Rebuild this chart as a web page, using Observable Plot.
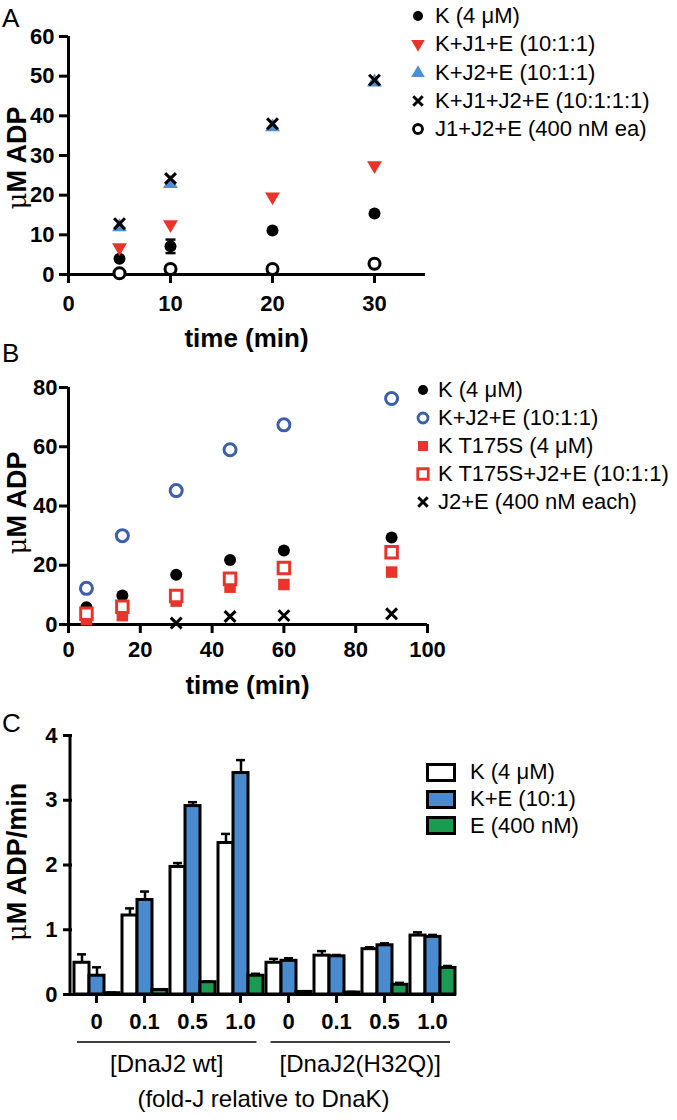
<!DOCTYPE html>
<html>
<head>
<meta charset="utf-8">
<script src="https://cdn.jsdelivr.net/npm/d3@7"></script>
<script src="https://cdn.jsdelivr.net/npm/@observablehq/plot@0.6"></script>
<style>
  body { margin: 0; background: #fff; }
  #root { position: relative; width: 677px; height: 1120px; font-family: "Liberation Sans", Arial, sans-serif; color: #000; overflow: hidden; }
  .letter { position: absolute; font-size: 26px; line-height: 1; }
  .leg { position: absolute; font-size: 22px; }
  .leg .row { display: flex; align-items: center; white-space: nowrap; }
  .leg svg { flex: none; }
</style>
</head>
<body>
<div id="root"></div>
<script>
// ---------------- DATA ----------------
// Panel A
const timesA = [5, 10, 20, 30];
const seriesA = ["K (4 μM)", "K+J1+E (10:1:1)", "K+J2+E (10:1:1)", "K+J1+J2+E (10:1:1:1)", "J1+J2+E (400 nM ea)"];
const aK      = [4.0, 7.1, 11.1, 15.4];
const aKlo    = [null, 5.4, null, null];
const aKhi    = [null, 8.8, null, null];
const aKJ1E   = [6.8, 12.6, 19.6, 27.5];
const aKJ2E   = [12.0, 22.9, 37.2, 48.5];
const aKJ1J2E = [12.8, 24.2, 38.0, 49.0];
const aJ1J2E  = [0.3, 1.4, 1.4, 2.7];
const ticksAx = [0, 10, 20, 30];
const ticksAy = [0, 10, 20, 30, 40, 50, 60];

// Panel B
const timesB = [5, 15, 30, 45, 60, 90];
const seriesB = ["K (4 μM)", "K+J2+E (10:1:1)", "K T175S (4 μM)", "K T175S+J2+E (10:1:1)", "J2+E (400 nM each)"];
const bK       = [5.8, 9.8, 16.8, 21.8, 25.0, 29.4];
const bKJ2E    = [12.2, 30.0, 45.2, 59.0, 67.4, 76.3];
const bT175S   = [1.6, 3.0, 7.9, 12.6, 13.5, 17.7];
const bT175SJ2E= [3.6, 6.0, 9.6, 15.4, 19.1, 24.4];
const bJ2E     = [null, null, 0.5, 2.7, 3.0, 3.6];
const ticksBx = [0, 20, 40, 60, 80, 100];
const ticksBy = [0, 20, 40, 60, 80];

// Panel C
const seriesC = ["K (4 μM)", "K+E (10:1)", "E (400 nM)"];
const foldJ = ["0", "0.1", "0.5", "1.0"];
const constructsC = ["[DnaJ2 wt]", "[DnaJ2(H32Q)]"];
const cK_wt    = [0.49, 1.22, 1.97, 2.34];
const cK_wtHi  = [0.62, 1.33, 2.03, 2.48];
const cKE_wt   = [0.29, 1.46, 2.91, 3.42];
const cKE_wtHi = [0.42, 1.59, 2.97, 3.62];
const cE_wt    = [0.02, 0.07, 0.19, 0.29];
const cE_wtHi  = [0.03, 0.08, 0.20, 0.32];
const cK_h     = [0.49, 0.60, 0.70, 0.91];
const cK_hHi   = [0.55, 0.67, 0.73, 0.96];
const cKE_h    = [0.52, 0.59, 0.76, 0.89];
const cKE_hHi  = [0.56, 0.61, 0.79, 0.92];
const cE_h     = [0.04, 0.03, 0.15, 0.41];
const cE_hHi   = [0.05, 0.04, 0.18, 0.44];
const ticksCy = [0, 1, 2, 3, 4];

// ---------------- STYLE ----------------
const FONT = '"Liberation Sans", Arial, sans-serif';
const RED = "#e8352b", BLUE_A = "#4a90d2", BLUE_B = "#3d5eab", BLUE_C = "#4a8bcf", GREEN = "#1b9a52";

const sqrt3 = Math.sqrt(3);
const triDown = {draw(ctx, size) {
  const y = Math.sqrt(size / (sqrt3 * 3));
  ctx.moveTo(0, 2 * y); ctx.lineTo(-sqrt3 * y, -y); ctx.lineTo(sqrt3 * y, -y); ctx.closePath();
}};
const capSym = {draw(ctx, size) { ctx.moveTo(-5, 0); ctx.lineTo(5, 0); }};

const root = document.getElementById("root");
function place(el, left, top) {
  el.style.position = "absolute"; el.style.left = left + "px"; el.style.top = top + "px";
  root.appendChild(el); return el;
}
function axisOpts(extra) {
  return Object.assign({strokeWidth: 3, fontSize: 22, fontWeight: "bold", label: null, tickSize: 9}, extra);
}
function addYTitle(svg, cx, cy, rest) {
  const t = d3.select(svg).append("text")
    .attr("transform", `translate(${cx},${cy}) rotate(-90)`)
    .attr("text-anchor", "middle").attr("dominant-baseline", "central")
    .attr("font-family", FONT).attr("font-size", 27).attr("font-weight", "bold").attr("fill", "black");
  t.append("tspan").attr("font-weight", "normal").attr("font-family", '"DejaVu Serif", serif').attr("font-size", 26).text("μ");
  t.append("tspan").text(rest);
}
function addXTitle(svg, cx, cy, txt) {
  d3.select(svg).append("text")
    .attr("x", cx).attr("y", cy).attr("text-anchor", "middle").attr("dominant-baseline", "central")
    .attr("font-family", FONT).attr("font-size", 26).attr("font-weight", "bold").attr("fill", "black").text(txt);
}
function symSvg(drawFn) {
  const s = d3.create("svg").attr("width", 20).attr("height", 20).attr("viewBox", "-10 -10 20 20");
  drawFn(s); return s.node();
}
function makeLegend(items, left, top, rowH, gap) {
  const div = document.createElement("div"); div.className = "leg";
  items.forEach(([label, drawFn]) => {
    const r = document.createElement("div"); r.className = "row"; r.style.height = rowH + "px";
    const s = symSvg(drawFn); s.style.marginRight = gap + "px"; r.appendChild(s);
    const sp = document.createElement("span"); sp.textContent = label; r.appendChild(sp);
    div.appendChild(r);
  });
  return place(div, left, top);
}
function letter(txt, left, top) {
  const d = document.createElement("div"); d.className = "letter"; d.textContent = txt; place(d, left, top);
}
function symPath(sym, size) { return d3.symbol(sym, size)(); }
const intFmt = d => String(d);

// ---------------- PANEL A ----------------
const plotA = Plot.plot({
  width: 440, height: 360,
  marginLeft: 68, marginRight: 15, marginTop: 36, marginBottom: 86,
  style: {fontFamily: FONT, color: "black", background: "transparent", overflow: "visible"},
  x: {domain: [0, 35]}, y: {domain: [0, 60]},
  marks: [
    Plot.ruleX([0], {strokeWidth: 3}),
    Plot.ruleY([0], {strokeWidth: 3}),
    Plot.axisX(axisOpts({ticks: ticksAx, tickFormat: intFmt, tickPadding: 12})),
    Plot.axisY(axisOpts({ticks: ticksAy, tickFormat: intFmt, tickPadding: 5})),
    Plot.dot(timesA, {x: timesA, y: aJ1J2E, r: 5.5, stroke: "black", strokeWidth: 3, fill: "white"}),
    Plot.ruleX(timesA, {x: timesA, y1: aKlo, y2: aKhi, strokeWidth: 2.5}),
    Plot.dot(timesA, {x: timesA, y: aKlo, symbol: capSym, stroke: "black", strokeWidth: 2.5}),
    Plot.dot(timesA, {x: timesA, y: aKhi, symbol: capSym, stroke: "black", strokeWidth: 2.5}),
    Plot.dot(timesA, {x: timesA, y: aK, r: 6, fill: "black"}),
    Plot.dot(timesA, {x: timesA, y: aKJ1E, r: 5.5, symbol: triDown, fill: RED, stroke: "none"}),
    Plot.dot(timesA, {x: timesA, y: aKJ2E, r: 5.5, symbol: "triangle", fill: BLUE_A, stroke: "none"}),
    Plot.dot(timesA, {x: timesA, y: aKJ1J2E, r: 5, symbol: "times", stroke: "black", strokeWidth: 3})
  ]
});
place(plotA, 0, 0);
addYTitle(plotA, 17, 158, "M ADP");
addXTitle(plotA, (68 + 425) / 2, 338, "time (min)");
letter("A", 2, 5);
makeLegend([
  [seriesA[0], s => s.append("circle").attr("r", 5).attr("fill", "black")],
  [seriesA[1], s => s.append("path").attr("d", symPath(triDown, 80)).attr("fill", RED)],
  [seriesA[2], s => s.append("path").attr("d", symPath(d3.symbolTriangle, 80)).attr("fill", BLUE_A)],
  [seriesA[3], s => s.append("path").attr("d", symPath(d3.symbolTimes, 60)).attr("stroke", "black").attr("stroke-width", 3)],
  [seriesA[4], s => s.append("circle").attr("r", 4.5).attr("fill", "white").attr("stroke", "black").attr("stroke-width", 2.8)]
], 408, 2, 28.3, 7);

// ---------------- PANEL B ----------------
const plotB = Plot.plot({
  width: 440, height: 370,
  marginLeft: 68, marginRight: 13, marginTop: 57, marginBottom: 76,
  style: {fontFamily: FONT, color: "black", background: "transparent", overflow: "visible"},
  x: {domain: [0, 100]}, y: {domain: [0, 80]},
  marks: [
    Plot.ruleX([0], {strokeWidth: 3}),
    Plot.ruleY([0], {strokeWidth: 3}),
    Plot.axisX(axisOpts({ticks: ticksBx, tickFormat: intFmt, tickPadding: 8})),
    Plot.axisY(axisOpts({ticks: ticksBy, tickFormat: intFmt, tickPadding: 2})),
    Plot.dot(timesB, {x: timesB, y: bK, r: 6, fill: "black"}),
    Plot.dot(timesB, {x: timesB, y: bKJ2E, r: 6, stroke: BLUE_B, strokeWidth: 3, fill: "white"}),
    Plot.dot(timesB, {x: timesB, y: bT175S, r: 6.5, symbol: "square", fill: RED, stroke: "none"}),
    Plot.dot(timesB, {x: timesB, y: bT175SJ2E, r: 6.5, symbol: "square", fill: "white", stroke: RED, strokeWidth: 3}),
    Plot.dot(timesB, {x: timesB, y: bJ2E, r: 5, symbol: "times", stroke: "black", strokeWidth: 3})
  ]
});
place(plotB, 0, 330);
addYTitle(plotB, 17, 173, "M ADP");
addXTitle(plotB, (68 + 427) / 2, 355, "time (min)");
letter("B", 2, 340);
makeLegend([
  [seriesB[0], s => s.append("circle").attr("r", 5).attr("fill", "black")],
  [seriesB[1], s => s.append("circle").attr("r", 5).attr("fill", "white").attr("stroke", BLUE_B).attr("stroke-width", 2.8)],
  [seriesB[2], s => s.append("path").attr("d", symPath(d3.symbolSquare, 100)).attr("fill", RED)],
  [seriesB[3], s => s.append("path").attr("d", symPath(d3.symbolSquare, 110)).attr("fill", "white").attr("stroke", RED).attr("stroke-width", 2.8)],
  [seriesB[4], s => s.append("path").attr("d", symPath(d3.symbolTimes, 60)).attr("stroke", "black").attr("stroke-width", 3)]
], 413, 376, 28, 5);

// ---------------- PANEL C ----------------
const valsC = {wt: [cK_wt, cKE_wt, cE_wt], h: [cK_h, cKE_h, cE_h]};
const hiC = {wt: [cK_wtHi, cKE_wtHi, cE_wtHi], h: [cK_hHi, cKE_hHi, cE_hHi]};
const rowsC = [];
["wt", "h"].forEach((c, ci) => foldJ.forEach((f, fi) => seriesC.forEach((s, si) => {
  rowsC.push({key: c + "|" + f, construct: constructsC[ci], fold: f, series: s, value: valsC[c][si][fi], hi: hiC[c][si][fi]});
})));
const fxDomain = Array.from(new Set(rowsC.map(d => d.key)));
const plotC = Plot.plot({
  width: 470, height: 420,
  marginLeft: 70, marginRight: 13, marginTop: 35, marginBottom: 126,
  style: {fontFamily: FONT, color: "black", background: "transparent", overflow: "visible"},
  fx: {domain: fxDomain, padding: 0},
  x: {domain: seriesC, paddingInner: 0, paddingOuter: 0.07, axis: null},
  y: {domain: [0, 4]},
  color: {domain: seriesC, range: ["white", BLUE_C, GREEN]},
  marks: [
    Plot.ruleY([0], {strokeWidth: 3}),
    Plot.axisFx(axisOpts({tickFormat: k => k.split("|")[1], tickPadding: 10, anchor: "bottom"})),
    Plot.axisY(axisOpts({ticks: ticksCy, tickFormat: intFmt, tickPadding: 6})),
    Plot.barY(rowsC, {fx: "key", x: "series", y: "value", fill: "series", stroke: "black", strokeWidth: 3}),
    Plot.ruleX(rowsC, {fx: "key", x: "series", y1: "value", y2: "hi", strokeWidth: 2.5}),
    Plot.tickY(rowsC, {fx: "key", x: "series", y: "hi", strokeWidth: 2.5, insetLeft: 3, insetRight: 3})
  ]
});
place(plotC, 0, 700);
{
  const sc = plotC.scale("fx"), sy = plotC.scale("y");
  const band = d3.scaleBand(sc.domain, sc.range).padding(0);
  const g = d3.select(plotC).append("g");
  g.append("line").attr("x1", sc.range[0]).attr("x2", sc.range[0]).attr("y1", sy.range[0]).attr("y2", sy.range[1])
    .attr("stroke", "black").attr("stroke-width", 3);
  constructsC.forEach((c, ci) => {
    const keys = rowsC.filter(d => d.construct === c).map(d => d.key);
    const x0 = band(keys[0]) + 7, x1 = band(keys[keys.length - 1]) + band.bandwidth() - 7;
    g.append("line").attr("x1", x0).attr("x2", x1).attr("y1", 342).attr("y2", 342).attr("stroke", "black").attr("stroke-width", 1.5);
    g.append("text").attr("x", (x0 + x1) / 2).attr("y", 363).attr("text-anchor", "middle").attr("dominant-baseline", "central")
      .attr("font-family", FONT).attr("font-size", 24).attr("fill", "black").text(c);
  });
  g.append("text").attr("x", (sc.range[0] + sc.range[1]) / 2).attr("y", 398).attr("text-anchor", "middle").attr("dominant-baseline", "central")
    .attr("font-family", FONT).attr("font-size", 24).attr("fill", "black").text("(fold-J relative to DnaK)");
}
addYTitle(plotC, 17, 162, "M ADP/min");
letter("C", 2, 710);
{
  const div = document.createElement("div"); div.className = "leg";
  seriesC.forEach((s, i) => {
    const r = document.createElement("div"); r.className = "row"; r.style.height = "26.7px";
    const sw = d3.create("svg").attr("width", 30).attr("height", 19);
    sw.append("rect").attr("x", 1.5).attr("y", 1.5).attr("width", 27).attr("height", 16)
      .attr("fill", ["white", BLUE_C, GREEN][i]).attr("stroke", "black").attr("stroke-width", 3);
    const n = sw.node(); n.style.marginRight = "14px"; r.appendChild(n);
    const sp = document.createElement("span"); sp.textContent = s; r.appendChild(sp);
    div.appendChild(r);
  });
  place(div, 426, 759);
}
</script>
</body>
</html>
